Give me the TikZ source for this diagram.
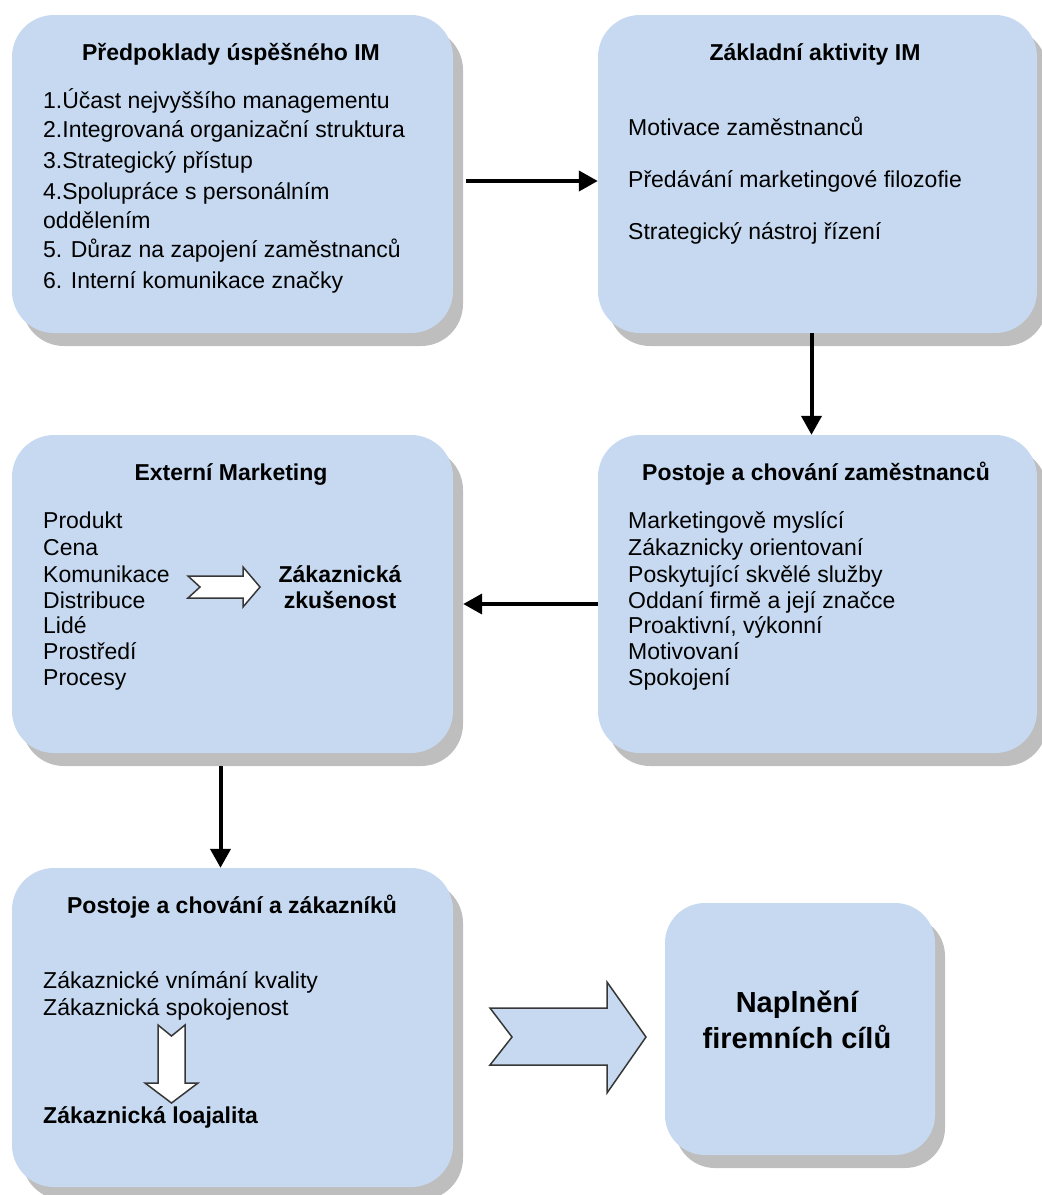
\documentclass[tikz,border=0pt]{standalone}
\usepackage{fontspec}
\setmainfont{Liberation Sans}
\usetikzlibrary{arrows.meta,shadows}
\definecolor{boxblue}{RGB}{198,217,240}
\definecolor{shadowgray}{RGB}{190,190,190}
\definecolor{edgegray}{RGB}{55,55,55}
\begin{document}
\begin{tikzpicture}[x=1pt,y=-1pt,
  panel/.style={rounded corners=42pt, fill=boxblue, draw=none, inner sep=0pt,
    drop shadow={shadow xshift=10pt, shadow yshift=-13pt, fill=shadowgray, opacity=1}},
  heading/.style={inner sep=0pt, anchor=base, font=\fontsize{23}{26}\selectfont\bfseries},
  item/.style={inner sep=0pt, anchor=base west, font=\fontsize{23}{26}\selectfont},
  bigtext/.style={inner sep=0pt, anchor=base, font=\fontsize{29}{34}\selectfont\bfseries},
  link/.style={line width=4pt, -{Triangle[length=19pt,width=20pt]}},
  blockarrow/.style={draw=edgegray, line width=1.5pt, line join=miter},
]
\useasboundingbox (0,0) rectangle (1042,1195);

% panels
\node[panel, minimum width=441pt, minimum height=318pt] (b1) at (232.5,174) {};
\node[panel, minimum width=439pt, minimum height=318pt] (b2) at (817.5,174) {};
\node[panel, minimum width=441pt, minimum height=318pt] (b3) at (232.5,594) {};
\node[panel, minimum width=439pt, minimum height=318pt] (b4) at (817.5,594) {};
\node[panel, minimum width=441pt, minimum height=319pt] (b5) at (232.5,1027.5) {};
\node[panel, rounded corners=40pt, minimum width=270pt, minimum height=252pt] (b6) at (800,1029) {};

% Předpoklady úspěšného IM
\node[heading] (h1) at (231,60) {Předpoklady úspěšného IM};
\foreach \y/\t [count=\i] in {108/{1.Účast nejvyššího managementu},
    137/{2.Integrovaná organizační struktura},
    168/{3.Strategický přístup},
    199/{4.Spolupráce s personálním},
    228/{oddělením},
    257/{5. Důraz na zapojení zaměstnanců},
    288/{6. Interní komunikace značky}}
  \node[item] (p\i) at (43,\y) {\t};

% Základní aktivity IM
\node[heading] (h2) at (815,60) {Základní aktivity IM};
\foreach \y/\t [count=\i] in {135/{Motivace zaměstnanců},
    187/{Předávání marketingové filozofie},
    239/{Strategický nástroj řízení}}
  \node[item] (a\i) at (628,\y) {\t};

% Externí Marketing
\node[heading] (h3) at (231,480) {Externí Marketing};
\foreach \y/\t [count=\i] in {528/Produkt, 555/Cena, 582/Komunikace,
    608/Distribuce, 633/Lidé, 659/Prostředí, 685/Procesy}
  \node[item] (m\i) at (43,\y) {\t};
\node[heading] (zk1) at (340,582) {Zákaznická};
\node[heading] (zk2) at (340,608) {zkušenost};
\filldraw[blockarrow, fill=white] (188,576) -- (243,576) -- (243,567) -- (260,587)
  -- (243,607) -- (243,598) -- (188,598) -- (200,587) -- cycle;

% Postoje a chování zaměstnanců
\node[heading] (h4) at (816,480) {Postoje a chování zaměstnanců};
\foreach \y/\t [count=\i] in {528/{Marketingově myslící},
    555/{Zákaznicky orientovaní},
    582/{Poskytující skvělé služby},
    608/{Oddaní firmě a její značce},
    633/{Proaktivní, výkonní},
    659/{Motivovaní},
    685/{Spokojení}}
  \node[item] (e\i) at (628,\y) {\t};

% Postoje a chování a zákazníků
\node[heading] (h5) at (232,913) {Postoje a chování a zákazníků};
\node[item] (c1) at (43,988) {Zákaznické vnímání kvality};
\node[item] (c2) at (43,1015) {Zákaznická spokojenost};
\node[item, font=\fontsize{23}{26}\selectfont\bfseries] (c3) at (43,1123) {Zákaznická loajalita};
\filldraw[blockarrow, fill=white] (158,1025) -- (171.5,1036) -- (185,1025) -- (185,1083)
  -- (198,1083) -- (171.5,1103) -- (145,1083) -- (158,1083) -- cycle;

% Naplnění firemních cílů
\node[bigtext] (g1) at (797,1012) {Naplnění};
\node[bigtext] (g2) at (797,1048) {firemních cílů};
\filldraw[blockarrow, fill=boxblue] (490,1008) -- (607,1008) -- (607,982) -- (646,1037)
  -- (607,1093) -- (607,1065) -- (490,1065) -- (512,1037) -- cycle;

% connectors
\draw[link] ([xshift=13pt,yshift=-7pt]b1.east) -- ([yshift=-7pt]b2.west);
\draw[link] ([xshift=-6pt]b2.south) -- ([xshift=-6pt]b4.north);
\draw[link] ([yshift=-10pt]b4.west) -- ([xshift=10pt,yshift=-10pt]b3.east);
\draw[link] ([xshift=-12pt,yshift=-13pt]b3.south) -- ([xshift=-12pt]b5.north);
\end{tikzpicture}
\end{document}
